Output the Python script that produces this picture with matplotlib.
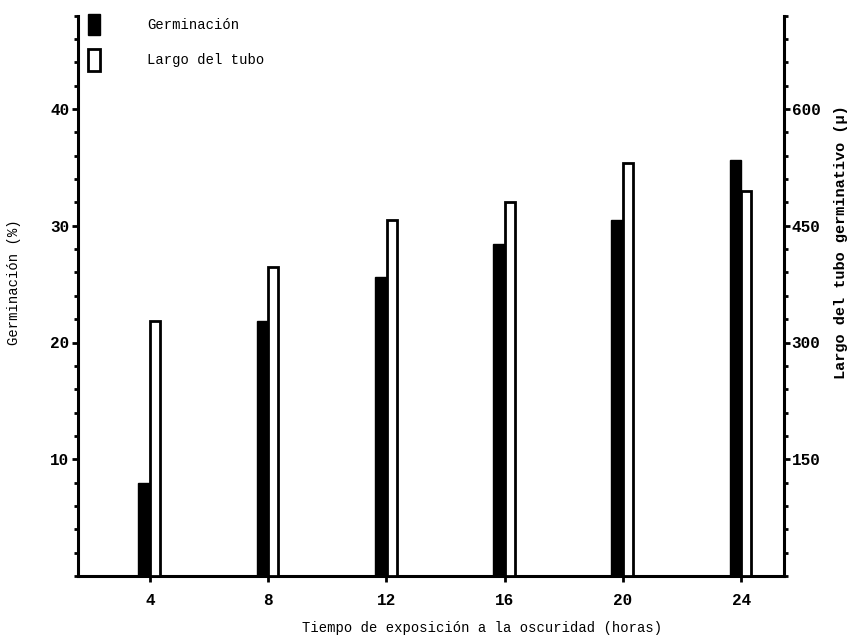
import matplotlib
matplotlib.use('Agg')
import matplotlib.pyplot as plt
from matplotlib.patches import Patch
from matplotlib.ticker import MultipleLocator

# datos
horas = [4, 8, 12, 16, 20, 24]
germinacion = [8.0, 21.8, 25.6, 28.4, 30.5, 35.6]      # %
largo_tubo = [328, 397, 457, 481, 530, 495]            # micras

plt.rcParams['font.family'] = ['Liberation Mono', 'DejaVu Sans Mono']

fig = plt.figure(figsize=(8.53, 6.42), dpi=100)
ax = fig.add_axes([78 / 853, 66 / 642, 706 / 853, 560.4 / 642])
ax2 = ax.twinx()

lw = 2.0
ax.bar([h - 0.2 for h in horas], germinacion, width=0.38, color='black',
       edgecolor='black', linewidth=1, zorder=3)
ax2.bar([h + 0.18 for h in horas], largo_tubo, width=0.34, color='white',
        edgecolor='black', linewidth=lw, zorder=3)

ax.set_xlim(1.57, 25.45)
ax.set_ylim(0, 48)
ax2.set_ylim(0, 720)

ax.set_xticks(horas)
ax.set_xticklabels([str(h) for h in horas], fontweight='bold', fontsize=11.5)
ax.set_yticks([10, 20, 30, 40])
ax.set_yticklabels(['10', '20', '30', '40'], fontweight='bold', fontsize=11.5)
ax.yaxis.set_minor_locator(MultipleLocator(2))
ax2.set_yticks([150, 300, 450, 600])
ax2.set_yticklabels(['150', '300', '450', '600'], fontweight='bold', fontsize=11.5)
ax2.yaxis.set_minor_locator(MultipleLocator(30))

for a in (ax, ax2):
    a.spines['top'].set_visible(False)
    for s in ('left', 'right', 'bottom'):
        a.spines[s].set_linewidth(2.2)
    a.tick_params(axis='both', which='major', length=4, width=2, direction='out')
    a.tick_params(axis='y', which='minor', length=3, width=2, direction='out')
ax.spines['right'].set_visible(False)
ax2.spines['left'].set_visible(False)
ax2.spines['bottom'].set_visible(False)
ax.tick_params(axis='y', which='major', pad=2)
ax.tick_params(axis='x', which='major', pad=8)
ax2.tick_params(axis='y', which='major', pad=1.5)

# leyenda
handles = [Patch(facecolor='black', edgecolor='black', linewidth=1),
           Patch(facecolor='white', edgecolor='black', linewidth=lw)]
fig.legend(handles, ['Germinación', 'Largo del tubo'], loc='upper left',
           bbox_to_anchor=(88 / 853, 1 - 14 / 642), bbox_transform=fig.transFigure,
           frameon=False, fontsize=10, handlelength=0.85, handleheight=2.0,
           handletextpad=3.4, labelspacing=1.0, borderpad=0, borderaxespad=0)

fig.text(14 / 853, 1 - 282 / 642, 'Germinación (%)', rotation=90,
         ha='center', va='center', fontsize=10)
fig.text(841 / 853, 1 - 242 / 642, 'Largo del tubo germinativo (μ)', rotation=90,
         ha='center', va='center', fontsize=11, fontweight='bold')
fig.text(482 / 853, 1 - 628 / 642, 'Tiempo de exposición a la oscuridad (horas)',
         ha='center', va='center', fontsize=10)

fig.savefig('out.png', dpi=100)
